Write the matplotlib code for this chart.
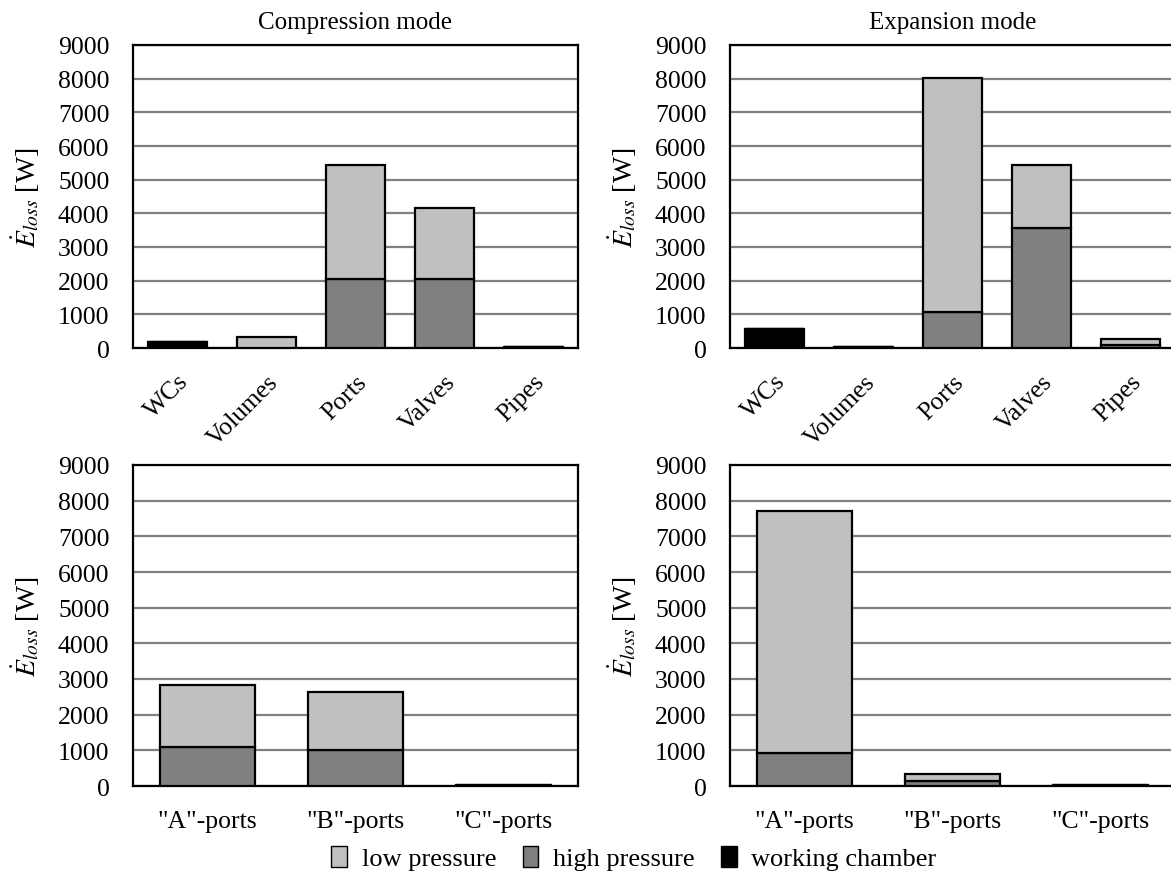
import matplotlib
matplotlib.use("Agg")
import matplotlib.pyplot as plt
import numpy as np
from matplotlib.patches import Patch

plt.rcParams['font.family'] = ['Liberation Serif', 'DejaVu Serif']
plt.rcParams['mathtext.fontset'] = 'stix'

# Top row: component categories
comp_cats = ["WCs", "Volumes", "Ports", "Valves", "Pipes"]
comp_low_c = [0, 320, 3380, 2120, 0]
comp_high_c = [0, 0, 2050, 2050, 0]
comp_wc_c = [180, 0, 0, 0, 30]

comp_low_e = [0, 0, 6950, 1870, 180]
comp_high_e = [0, 0, 1080, 3560, 100]
comp_wc_e = [560, 40, 0, 0, 0]

# Bottom row: port categories
port_cats = ['"A"-ports', '"B"-ports', '"C"-ports']
port_low_c = [1740, 1630, 0]
port_high_c = [1080, 1010, 30]
port_wc_c = [0, 0, 0]

port_low_e = [6790, 180, 0]
port_high_e = [930, 150, 30]
port_wc_e = [0, 0, 0]

yticks = [0, 1000, 2000, 3000, 4000, 5000, 6000, 7000, 8000, 9000]

C_LOW = "#c0c0c0"
C_HIGH = "#808080"
C_WC = "#000000"

FS = 18.5

W, H = 1171, 878
fig = plt.figure(figsize=(W / 100, H / 100), dpi=100)

def ax_at(left, top, right, bottom):
    return fig.add_axes([left / W, 1 - bottom / H, (right - left) / W, (bottom - top) / H])

def draw(ax, cats, wc, high, low, width, rotate):
    x = np.arange(len(cats))
    wc = np.array(wc); high = np.array(high); low = np.array(low)
    kw = dict(width=width, edgecolor="black", linewidth=1.6, zorder=3)
    ax.bar(x, wc, color=C_WC, **kw)
    ax.bar(x, high, bottom=wc, color=C_HIGH, **kw)
    ax.bar(x, low, bottom=wc + high, color=C_LOW, **kw)
    ax.set_xlim(-0.5, len(cats) - 0.5)
    ax.set_ylim(0, 9000)
    ax.set_yticks(yticks)
    ax.yaxis.grid(True, color="#808080", linewidth=1.6, zorder=0)
    ax.set_axisbelow(True)
    ax.tick_params(axis="both", length=0, labelsize=FS)
    ax.tick_params(axis="y", pad=17)
    ax.set_xticks(x)
    if rotate:
        ax.set_xticklabels(cats, rotation=45, ha="right", rotation_mode="anchor")
        ax.tick_params(axis="x", pad=16)
    else:
        ax.set_xticklabels(cats)
        ax.tick_params(axis="x", pad=17)
    for s in ax.spines.values():
        s.set_linewidth(1.6)
        s.set_color("black")
    ax.set_ylabel(r"$\dot{E}_{loss}$ [W]", fontsize=20)
    ax.yaxis.set_label_coords(-0.205, 0.5)

ax1 = ax_at(133, 46, 578, 349)
draw(ax1, comp_cats, comp_wc_c, comp_high_c, comp_low_c, 0.66, True)
ax1.set_title("Compression mode", fontsize=FS - 0.5, pad=12)

ax2 = ax_at(730, 46, 1175, 349)
draw(ax2, comp_cats, comp_wc_e, comp_high_e, comp_low_e, 0.66, True)
ax2.set_title("Expansion mode", fontsize=FS - 0.5, pad=12)

ax3 = ax_at(133, 466, 578, 787)
draw(ax3, port_cats, port_wc_c, port_high_c, port_low_c, 0.64, False)

ax4 = ax_at(730, 466, 1175, 787)
draw(ax4, port_cats, port_wc_e, port_high_e, port_low_e, 0.64, False)

handles = [Patch(facecolor=C_LOW, edgecolor="black", linewidth=1.0, label="low pressure"),
           Patch(facecolor=C_HIGH, edgecolor="black", linewidth=1.0, label="high pressure"),
           Patch(facecolor=C_WC, edgecolor="black", linewidth=1.0, label="working chamber")]
fig.legend(handles=handles, loc="center", bbox_to_anchor=(634 / W, 1 - 859 / H), ncol=3,
           frameon=False, fontsize=FS + 0.5, handlelength=0.6, handleheight=0.85,
           handletextpad=0.55, columnspacing=1.0)

fig.savefig("out.png", dpi=100)
